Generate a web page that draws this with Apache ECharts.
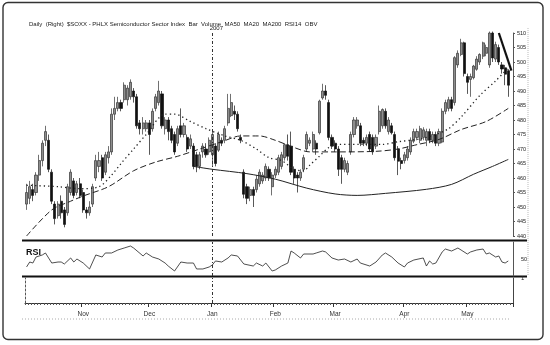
<!DOCTYPE html>
<html><head><meta charset="utf-8">
<script src="https://cdn.jsdelivr.net/npm/echarts@6/dist/echarts.min.js"></script>
<style>html,body{margin:0;padding:0;background:#fff}#c{width:550px;height:345px}</style>
</head><body><div id="c"></div>
<script>
// ---- categories ----
const startDate = '2006-10-06';
const nDays = 155;
const holidays = ['2006-11-23','2006-12-25','2007-01-01','2007-01-02','2007-01-15','2007-02-19','2007-04-06','2007-05-28'];
const monthNames = ['Jan','Feb','Mar','Apr','May','Jun','Jul','Aug','Sep','Oct','Nov','Dec'];
const titleText = 'Daily  (Right)  $SOXX - PHLX Semiconductor Sector Index  Bar  Volume  MA50  MA20  MA200  RSI14  OBV';
const yearLabel = '2007';
const markerDay = '2007-01-03';
const rsiLabel = 'RSI';

// ---- candles (open, close, low, high) ----
const openP = [451,453,456,455,461,466,473,473,462,451,447,452,449,448,455,459,455,458,455,449,448,451,460,464,467,462,467,469,482,484,486,487,487,488,490,488,479,477,477,479,477,484,486,489,477,480,477,475,472,478,475,474,471,471,468,464,469,470,469,468,471,469.6,473,473,479,481.5,483,482,474,462,457,454,456,456,458,459,460,463,457,461,462,464,467,471.5,471,463,461,460,463,470,472,470,472,475.6,487.6,490,486,474,472,470,467,463,462,469,475,478,478,473,472,475,474,471,476,478,483,476,478,475,470,466,466,467,469,472.7,474,473,474,473,476,473,475,472,472.4,483,484,487,486,499,502.6,506.6,495,494,494.6,497.5,500,502,503,499,510,501,505,499,498,497];
const closeP = [455,457,454,461,466,472,476,463,452,446,451,448,444,457,462,454,458,454,449,448,450,457,466,466,460,468,469,482,484,486,484,492,491,493,488,478,477,479,479,475,483,488,490,478,480,476,473,469,477,475,478,470,473.5,464,464,468,471,468,473,475,465,475,472,477,484,486,482,477,473,454.4,453,456,454,459.6,462,461,464,460,461,463,467,468,471.5,467.5,462,460,460,462,467,475,473,475,470,486.5,490,488.5,474,471,470,463,463,466,465,475,480,480,472,472,474,470,469,474,483,483.6,478,480,475.6,467,465.8,465,468,470,473,476,476,477,476.6,476,473,475,472,476,483,486,487,484,501.5,503,506.6,496,493,495,498.6,501,502.6,506.6,505,510,501.4,506,500,497.6,495.8,492];
const lowP = [449,451,452,454,459,464,471,462,451,444,446,446,443,447,454,453,454,453,448,446,447,450,459,462,459,461,465,468,480,483,483,486,485,487,486,477,475,475,476,468,476,483,485,477,475,473,472,468,471,474,474,469,470,463,462,463,467,467,468,464,464,469,471,472,478,481,480,476,472,453,451,452,450,455,457,458,459,459,454,460,461,463,466,466,461,458,455,459,462,469,471,469,468,475,487,487,473,470,469,460.7,458,462,461,468,474,477,471,471,471,469,468,470,475,477,477,475,475,466,461,463,465,466,468,472,473,472,473,471,472,472,471,471,472,482,483,483,485,498,502,495,489,488,494,497,499,501,502,498,500,500,499,496,492,488];
const highP = [458,459,458,462,468,473,478,475,463,452,452,454,450,458,463,460,459,460,456,450,452,458,468,469,468,469,471,484,488,488,487,493,492,494,491,489,480,481,480,480,484,489,493.5,490,481,481,478,476,478,484,479,475,475,472,469,469,472,472,474,476,472,476,474,478,489,489,485,483,475,463,458,457,457,461,463,462,465,464,462,464,468,469,472,475,476,464,462,463,468,476,474,476,473,487,492.5,492,487,475,473,471,468,467,466,476,481,481,479,474,475,476,475,475,485,484,484,481,479,476,471,467,469,471,474,477,477,478,477.5,477,477,476,476,477,484,487,488,488,502,504,508,507,496,496,499,502,503,507,506,510.5,510.5,507,506,500,499,497.5];

// ---- moving averages: [dayIndex, value] ----
const ma20 = [[0,457.5],[10,457],[17,456.3],[23,457],[27,461],[30,465],[34,470],[38,475],[44,482],[47,482],[52,479.5],[57,477],[63,474.5],[68,473],[73,470],[77,467],[81,466],[85,463],[88,462.5],[90,464.5],[93,467.5],[96,470.5],[99,471.6],[106,471.6],[113,471.6],[118,472.5],[125,473.5],[130,475],[134,477],[138,481],[144,488.5],[149,493.5],[153,498]];
const ma50 = [[0,440],[8,449],[14,452],[18,453.8],[26,457],[34,462.5],[41,465.5],[48,467.5],[55,470],[62,472.5],[68,474.5],[74,474.5],[79,473],[85,470.5],[90,469],[98,469],[111,469.2],[118,470],[124,471.5],[131,473.3],[138,476.7],[146,479.5],[153,484]];
const ma200 = [[53,464],[59,463],[70,461.5],[79,459.6],[89,456.5],[98,454.5],[105,454],[114,454.7],[127,456.1],[135,457.8],[142,461.3],[148,464],[153,466.4]];
const trendLine = [[150,510],[154,497]];

// ---- RSI14: [dayIndex, value] ----
const rsi = [[0,36],[1,44.7],[2,42.9],[3,53.5],[5,57.1],[6,60.6],[7,51.8],[8,42.9],[10,44.7],[11,44.7],[12,41.2],[14,51.8],[15,44.7],[16,50],[18,42.9],[20,32.4],[22,57.1],[24,53.5],[25,60.6],[27,60.6],[29,65.9],[31,69.4],[33,72.9],[34,69.4],[37,55.3],[38,60.6],[40,53.5],[42,50],[44,42.9],[45,37.6],[47,28.8],[49,44.7],[51,42.9],[53,42.9],[54,32.4],[56,32.4],[58,35.9],[59,39.4],[60,46.5],[62,44.7],[64,51.8],[65,57.1],[67,55.3],[69,41.2],[72,37.6],[73,42.9],[75,37.6],[76,42.9],[77,35.9],[78,28.8],[79,30.6],[81,37.6],[83,42.9],[84,64.1],[85,60.6],[87,51.8],[88,58.8],[91,58.8],[92,60.6],[94,64.1],[95,62.4],[97,51.8],[99,48.2],[101,50],[103,44.7],[105,50],[106,42.9],[109,37.6],[111,44.7],[113,57.1],[114,60.6],[116,53.5],[118,42.9],[120,35.9],[121,42.9],[123,48.2],[126,51.8],[127,37.6],[128,46.5],[129,41.2],[130,42.9],[132,62.4],[133,67.6],[135,64.1],[137,69.4],[138,65.9],[140,58.8],[141,62.4],[143,65.9],[145,67.6],[146,58.8],[147,60.6],[149,53.5],[150,55.3],[151,44.7],[152,42.9],[153,46.5]];

// ---- axis ranges ----
const priceMin = 440, priceMax = 510, priceStep = 5;
const rsiMin = 20, rsiMax = 80, rsiStep = 30, rsiShown = 50;
const volMin = 0, volMax = 1;

// build trading-day categories
const dates = [];
{
  const d = new Date(startDate + 'T00:00:00Z');
  while (dates.length < nDays) {
    const dow = d.getUTCDay();
    const s = d.toISOString().slice(0, 10);
    if (dow !== 0 && dow !== 6 && holidays.indexOf(s) < 0) dates.push(s);
    d.setUTCDate(d.getUTCDate() + 1);
  }
}
const isMonthStart = i => i > 0 && dates[i].slice(5, 7) !== dates[i - 1].slice(5, 7);
const candles = openP.map((o, i) => [o, closeP[i], lowP[i], highP[i]]);

const FONT = 'Liberation Sans, Arial, sans-serif';
const L = 25, W = 488;
const hiddenX = (g) => ({type:'category', gridIndex:g, data:dates, boundaryGap:true,
  axisLine:{show:false}, axisTick:{show:false}, axisLabel:{show:false}, splitLine:{show:false}});
const janLine = () => ({
  silent:true, symbol:'none', animation:false,
  lineStyle:{color:'#333', width:1, type:[3,2,1,2]},
  label:{show:false},
  data:[{xAxis: markerDay}]
});

const chart = echarts.init(document.getElementById('c'), null, {renderer:'canvas'});
chart.setOption({
  animation:false,
  backgroundColor:'#fff',
  textStyle:{fontFamily:FONT},
  title:{text:titleText, left:24, top:16, textStyle:{fontSize:6, fontWeight:'normal', color:'#222', fontFamily:FONT}},
  grid:[
    {left:L, width:W, top:33, height:203},
    {left:L, width:W, top:242, height:34},
    {left:L, width:W, top:278, height:25}
  ],
  xAxis:[
    hiddenX(0), hiddenX(1),
    {type:'category', gridIndex:2, data:dates, boundaryGap:true,
      axisLine:{show:true, lineStyle:{color:'#333', width:1}},
      axisTick:{show:true, interval:0, length:2, lineStyle:{color:'#555'}},
      axisLabel:{interval:(i)=>isMonthStart(i), formatter:(v)=>monthNames[parseInt(v.slice(5,7),10)-1], fontSize:6.5, color:'#333', margin:8},
      splitLine:{show:false}},
    {type:'category', gridIndex:2, data:dates, boundaryGap:true, position:'bottom',
      axisLine:{show:false},
      axisTick:{show:true, interval:(i)=>isMonthStart(i), length:4, lineStyle:{color:'#333'}},
      axisLabel:{show:false}, splitLine:{show:false}}
  ],
  yAxis:[
    {type:'value', gridIndex:0, position:'right', min:priceMin, max:priceMax, interval:priceStep,
      axisLine:{show:true, lineStyle:{color:'#555'}}, axisTick:{show:true, length:2, lineStyle:{color:'#555'}},
      axisLabel:{fontSize:5.5, margin:4, color:'#222'}, splitLine:{show:false}},
    {type:'value', gridIndex:1, position:'right', min:rsiMin, max:rsiMax, interval:rsiStep,
      axisLine:{show:true, lineStyle:{color:'#555'}}, axisTick:{show:false},
      axisLabel:{fontSize:5.5, margin:8, color:'#222', formatter:(v)=> v===rsiShown ? String(v) : ''}, splitLine:{show:false}},
    {type:'value', gridIndex:2, position:'right', min:volMin, max:volMax, interval:1,
      axisLine:{show:true, lineStyle:{color:'#444'}}, axisTick:{show:false},
      axisLabel:{fontSize:6, margin:8, color:'#222', formatter:(v)=> v===volMax ? String(v) : ''}, splitLine:{show:false}},
    {type:'value', gridIndex:2, position:'left', min:volMin, max:volMax, interval:1,
      axisLine:{show:true, lineStyle:{color:'#555', type:[2,2]}}, axisTick:{show:false},
      axisLabel:{show:false}, splitLine:{show:false}}
  ],
  series:[
    {type:'candlestick', xAxisIndex:0, yAxisIndex:0, data:candles, barWidth:2.6,
      itemStyle:{color:'#8e8e8e', color0:'#111', borderColor:'#333', borderColor0:'#111', borderWidth:0.7},
      markLine:{
        silent:true, symbol:'none', animation:false,
        data:[
          {xAxis:markerDay, lineStyle:{color:'#333', width:1, type:[3,2,1,2]},
            label:{show:true, position:'end', formatter:yearLabel, fontSize:6, color:'#222', fontFamily:FONT, padding:[0,0,0,8], distance:2}},
          [{coord:trendLine[0], lineStyle:{color:'#111', width:2.2, type:'solid'}, label:{show:false}},
           {coord:trendLine[1]}]
        ]
      }},
    {type:'line', name:'MA20', xAxisIndex:0, yAxisIndex:0, data:ma20, symbol:'none', smooth:0.3,
      lineStyle:{color:'#222', width:1.3, type:[1.3,3]}},
    {type:'line', name:'MA50', xAxisIndex:0, yAxisIndex:0, data:ma50, symbol:'none', smooth:0.3,
      lineStyle:{color:'#222', width:1, type:[6,3]}},
    {type:'line', name:'MA200', xAxisIndex:0, yAxisIndex:0, data:ma200, symbol:'none', smooth:0.3,
      lineStyle:{color:'#222', width:1}},
    {type:'line', name:'RSI14', xAxisIndex:1, yAxisIndex:1, data:rsi, symbol:'none',
      lineStyle:{color:'#222', width:0.8}, markLine:janLine()},
    {type:'line', name:'Vol', xAxisIndex:2, yAxisIndex:2, data:dates.map(()=>null), symbol:'none',
      lineStyle:{width:0}, markLine:janLine()}
  ],
  graphic:[
    {type:'rect', shape:{x:3, y:2.5, width:540, height:337, r:5}, style:{fill:null, stroke:'#333', lineWidth:1.4}, silent:true},
    {type:'line', shape:{x1:22, y1:240.5, x2:527, y2:240.5}, style:{stroke:'#111', lineWidth:2}, silent:true},
    {type:'line', shape:{x1:22, y1:276.5, x2:527, y2:276.5}, style:{stroke:'#111', lineWidth:2}, silent:true},
    {type:'line', shape:{x1:528, y1:28, x2:528, y2:276}, style:{stroke:'#bbb', lineWidth:1, lineDash:[1,1]}, silent:true},
    {type:'line', shape:{x1:22, y1:319, x2:510, y2:319}, style:{stroke:'#aaa', lineWidth:1, lineDash:[1,2]}, silent:true},
    {type:'text', left:26, top:248, style:{text:rsiLabel, font:'bold 9px ' + FONT, fill:'#111', shadowColor:'#888', shadowBlur:3}, silent:true}
  ]
});
</script></body></html>
